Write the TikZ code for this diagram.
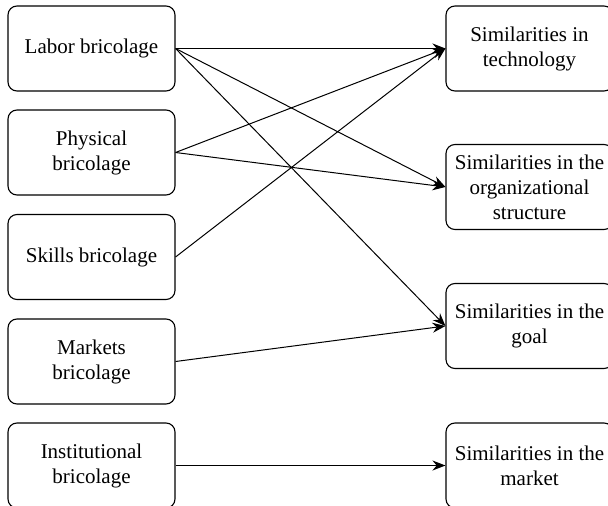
\documentclass[tikz,border=0pt]{standalone}
\usepackage{fontspec}
\setmainfont{Liberation Serif}
\usetikzlibrary{arrows.meta}
\begin{document}
\begin{tikzpicture}[x=1bp,y=-1bp,
        box/.style={draw,rounded corners=9bp,line width=1.1bp,minimum width=167bp,minimum height=85bp,inner sep=0pt,align=center,font=\fontsize{21bp}{25bp}\selectfont},
        link/.style={line width=1bp,-{Stealth[length=13bp,width=10bp]}}]
        \clip (0,0) rectangle (608,506);
        \node[box] (labor) at (91.5,48.5) {Labor bricolage};
        \node[box] (physical) at (91.5,152.5) {Physical\\bricolage};
        \node[box] (skills) at (91.5,257) {Skills bricolage};
        \node[box] (markets) at (91.5,361.5) {Markets\\bricolage};
        \node[box] (institutional) at (91.5,465.5) {Institutional\\bricolage};
        \node[box] (technology) at (529.5,48.5) {Similarities in\\technology};
        \node[box] (structure) at (529.5,187) {Similarities in the\\organizational\\structure};
        \node[box] (goal) at (529.5,326) {Similarities in the\\goal};
        \node[box] (market) at (529.5,465.5) {Similarities in the\\market};
        \draw[link] (labor.east) -- (technology.west);
        \draw[link] (labor.east) -- (structure.west);
        \draw[link] (labor.east) -- (goal.west);
        \draw[link] (physical.east) -- (technology.west);
        \draw[link] (physical.east) -- (structure.west);
        \draw[link] (skills.east) -- (technology.west);
        \draw[link] (markets.east) -- (goal.west);
        \draw[link] (institutional.east) -- (market.west);
        \end{tikzpicture}
\end{document}
